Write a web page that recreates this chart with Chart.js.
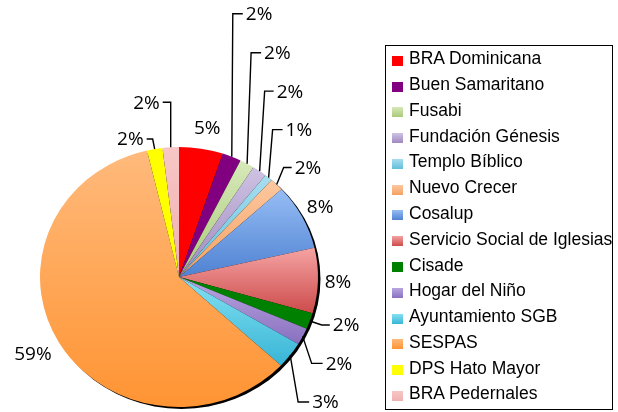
<!DOCTYPE html>
<html>
<head>
<meta charset="utf-8">
<script src="https://cdn.jsdelivr.net/npm/chart.js@4"></script>
<style>
  body { margin: 0; background: #fff; }
  #marco { position: relative; width: 618px; height: 412px; }
  #leyenda {
    position: absolute; left: 385px; top: 45px; width: 228px; height: 365px;
    border: 1px solid #000; overflow: hidden; box-sizing: border-box;
    font-family: "Liberation Sans", Arial, sans-serif; font-size: 17.5px; color: #000;
  }
  .fila { display: flex; align-items: center; height: 25.77px; white-space: nowrap; }
  .marca { width: 11px; height: 10px; margin: 0 6px 0 6px; position: relative; top: 2px; flex: none; }
</style>
</head>
<body>
<div id="marco">
  <canvas id="grafico" width="618" height="412"></canvas>
  <div id="leyenda"></div>
</div>
<script>
// Datos
const instituciones = ['BRA Dominicana', 'Buen Samaritano', 'Fusabi', 'Fundación Génesis', 'Templo Bíblico',
  'Nuevo Crecer', 'Cosalup', 'Servicio Social de Iglesias', 'Cisade', 'Hogar del Niño',
  'Ayuntamiento SGB', 'SESPAS', 'DPS Hato Mayor', 'BRA Pedernales'];
const porcentajes = [5.1, 2.2, 1.7, 1.7, 0.9, 1.6, 8.2, 8.1, 2.0, 2.1, 3.3, 59.4, 1.8, 1.9];

// Colores (arriba / abajo del degradado)
const colorArriba = ['#FF0000', '#800080', '#D7E9B9', '#CFC3E3', '#A8DEEF', '#FDC8A0', '#96BDF5',
  '#F5A3A3', '#008000', '#B9A6E0', '#84E1F2', '#FFBA7C', '#FFFF00', '#F8C6C6'];
const colorAbajo = ['#FF0000', '#800080', '#A9C97A', '#9F88C0', '#62BFDA', '#F5A060', '#4F82D2',
  '#CD4B4B', '#008000', '#8A70C0', '#38B5D6', '#FF9433', '#FFFF00', '#F0B0B0'];

// Ubicación de las etiquetas respecto al borde de cada porción: [dx, dy, codo de la línea]
const etiquetas = [[6, -20, null], [14, -142, 1], [17, -110, 4], [17, -79, 5], [17, -47, 4], [18, -16, 7],
  [18, -9, null], [20, 2, null], [23, 5, 12], [23, 28, 9], [22, 48, 8], [-26, 12, null], [-11, -9, -2], [-11, -44, 0]];

const ESCALA_X = 139 / 130;
let degradados = [];

// Leyenda
const leyenda = document.getElementById('leyenda');
instituciones.forEach((nombre, i) => {
  const fila = document.createElement('div');
  fila.className = 'fila';
  const marca = document.createElement('span');
  marca.className = 'marca';
  marca.style.background = `linear-gradient(to bottom, ${colorArriba[i]}, ${colorAbajo[i]})`;
  const texto = document.createElement('span');
  texto.textContent = nombre;
  fila.appendChild(marca);
  fila.appendChild(texto);
  leyenda.appendChild(fila);
});

// Degradado vertical de cada porción según su extensión
const pluginDegradado = {
  id: 'degradado',
  afterLayout(chart) {
    const area = chart.chartArea;
    const cy = (area.top + area.bottom) / 2;
    const r = Math.min(area.right - area.left, area.bottom - area.top) / 2;
    const total = porcentajes.reduce((a, b) => a + b, 0);
    let ang = -Math.PI / 2;
    degradados = porcentajes.map((v, i) => {
      const fin = ang + v / total * 2 * Math.PI;
      let ys = [cy, cy + r * Math.sin(ang), cy + r * Math.sin(fin)];
      for (let k = -3; k <= 3; k++) {
        const a = k * Math.PI / 2 + Math.PI / 2;
        if (a > ang && a < fin) ys.push(cy + r * Math.sin(a));
      }
      ang = fin;
      const g = chart.ctx.createLinearGradient(0, Math.min(...ys), 0, Math.max(...ys));
      g.addColorStop(0, colorArriba[i]);
      g.addColorStop(1, colorAbajo[i]);
      return g;
    });
  }
};

// Sombra, estiramiento horizontal y etiquetas con líneas guía
const pluginPastel = {
  id: 'pastel',
  beforeDatasetsDraw(chart) {
    const arco = chart.getDatasetMeta(0).data[0];
    const ctx = chart.ctx;
    ctx.save();
    ctx.fillStyle = '#000';
    ctx.beginPath();
    ctx.ellipse(arco.x + 2.5, arco.y + 2, arco.outerRadius * ESCALA_X, arco.outerRadius, 0, 0, 2 * Math.PI);
    ctx.fill();
    ctx.restore();
    ctx.save();
    ctx.translate(arco.x, 0);
    ctx.scale(ESCALA_X, 1);
    ctx.translate(-arco.x, 0);
  },
  afterDatasetsDraw(chart) {
    const ctx = chart.ctx;
    ctx.restore();
    const total = porcentajes.reduce((a, b) => a + b, 0);
    ctx.save();
    ctx.font = '19px "Open Sans", sans-serif';
    ctx.fillStyle = '#000';
    ctx.strokeStyle = '#000';
    ctx.lineWidth = 1.4;
    ctx.textBaseline = 'middle';
    chart.getDatasetMeta(0).data.forEach((arco, i) => {
      const medio = (arco.startAngle + arco.endAngle) / 2;
      const ex = arco.x + arco.outerRadius * ESCALA_X * Math.cos(medio);
      const ey = arco.y + arco.outerRadius * Math.sin(medio);
      const [dx, dy, codo] = etiquetas[i];
      const tx = ex + dx, ty = ey + dy;
      const texto = Math.round(porcentajes[i] / total * 100) + '%';
      if (codo === null) {
        ctx.textAlign = 'center';
        ctx.fillText(texto, tx, ty);
        return;
      }
      const lado = dx >= 0 ? 1 : -1;
      ctx.beginPath();
      ctx.moveTo(ex, ey);
      ctx.lineTo(ex + codo, ty - 1);
      ctx.lineTo(tx - lado * 3, ty - 1);
      ctx.stroke();
      ctx.textAlign = lado > 0 ? 'left' : 'right';
      ctx.fillText(texto, tx, ty);
    });
    ctx.restore();
  }
};

new Chart(document.getElementById('grafico'), {
  type: 'pie',
  data: {
    labels: instituciones,
    datasets: [{
      data: porcentajes,
      backgroundColor: (c) => degradados[c.dataIndex] || colorArriba[c.dataIndex],
      borderWidth: 0,
      clip: false
    }]
  },
  options: {
    responsive: false,
    animation: false,
    layout: { padding: { left: 49, right: 309, top: 147, bottom: 5 } },
    plugins: {
      legend: { display: false },
      tooltip: { enabled: false }
    }
  },
  plugins: [pluginDegradado, pluginPastel]
});
</script>
</body>
</html>
